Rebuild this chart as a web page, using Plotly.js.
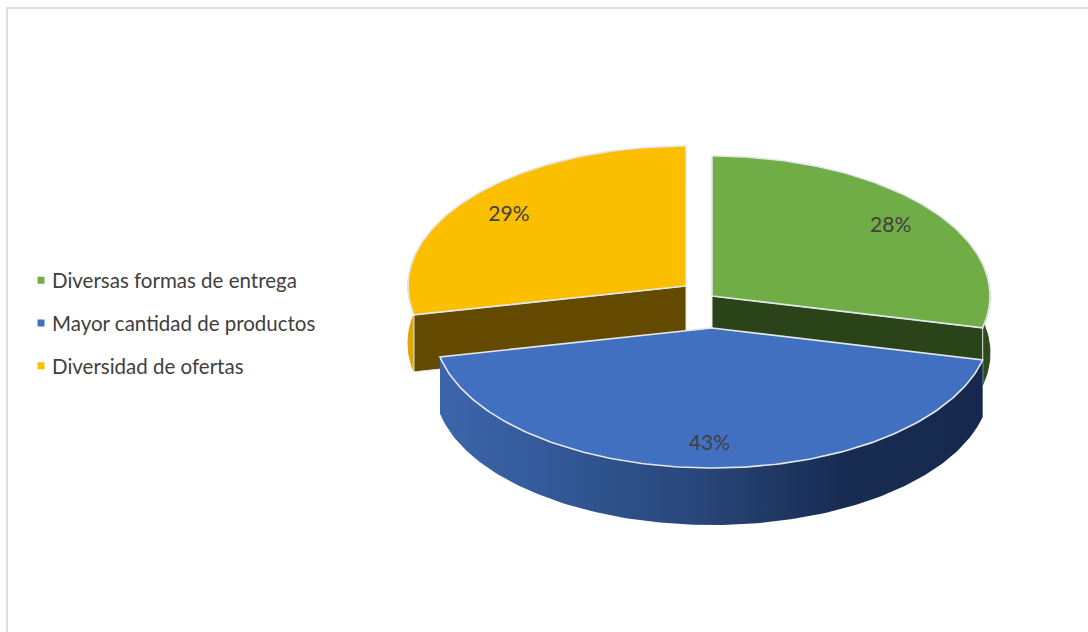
<!DOCTYPE html>
<html>
<head>
<meta charset="utf-8">
<script src="https://cdn.plot.ly/plotly-3.0.1.min.js"></script>
<style>html,body{margin:0;padding:0;background:#fff}#chart{width:1088px;height:632px}</style>
</head>
<body>
<div id="chart"></div>
<script>
// Survey shares, in percent, clockwise from twelve o'clock
const categories = ['Diversas formas de entrega', 'Mayor cantidad de productos', 'Diversidad de ofertas'];
const shares = [28, 43, 29];

const topColors = ['#70AD47', '#4270C0', '#FCBF00'];
const cutColors = ['#2B4319', '#000000', '#634A00'];
const rimColors = ['#2F4A1C', '#000000', '#DDA600'];
const edgeColor = '#E4E7EA';
const textColor = '#404040';

// Disc geometry on a page-sized plot area
const RX = 278, RY = 140, DEPTH = 57;
const hubs = [[712, 296], [712, 328], [686, 286]];

// The nearer half of the disc is foreshortened less, which spreads its angles a little
const view = deg => deg + 4 * (1 - Math.cos(deg * Math.PI / 180)) / 2;

function projected(hub, viewDeg, radial = 1, drop = 0) {
  const a = viewDeg * Math.PI / 180;
  return [hub[0] + RX * radial * Math.sin(a), hub[1] - RY * radial * Math.cos(a) + drop];
}
const rimPoint = (hub, deg, radial, drop) => projected(hub, view(deg), radial, drop);

function sweep(a0, a1, step = 1) {
  const n = Math.max(1, Math.round((a1 - a0) / step));
  const out = [];
  for (let i = 0; i <= n; i++) out.push(a0 + (a1 - a0) * i / n);
  return out;
}

function polygon(points, fill, line) {
  return {
    type: 'scatter', mode: 'lines', fill: 'toself', fillcolor: fill,
    x: points.map(p => p[0]), y: points.map(p => p[1]),
    line: line || { color: fill, width: 1 },
    hoverinfo: 'skip', showlegend: false
  };
}

// Slice boundaries in degrees
const total = shares.reduce((a, b) => a + b, 0);
let running = 0;
const spans = shares.map(s => {
  const a0 = running / total * 360;
  running += s;
  return [a0, running / total * 360];
});

function outerWall(i, a0, a1, color) {
  const hub = hubs[i];
  const angles = sweep(a0, a1);
  const top = angles.map(a => rimPoint(hub, a));
  const bottom = angles.slice().reverse().map(a => rimPoint(hub, a, 1, DEPTH));
  return polygon(top.concat(bottom), color);
}

function cutWall(i, deg, color) {
  const hub = hubs[i];
  return polygon([
    hub, rimPoint(hub, deg), rimPoint(hub, deg, 1, DEPTH), [hub[0], hub[1] + DEPTH], hub
  ], color, { color: edgeColor, width: 1 });
}

function topFace(i) {
  const hub = hubs[i];
  const rim = sweep(spans[i][0], spans[i][1]).map(a => rimPoint(hub, a));
  return polygon([hub].concat(rim, [hub]), topColors[i], { color: edgeColor, width: 1.6 });
}

// Front wall shading, left to right across the slice
const wallShades = [
  [0, 'rgb(60,102,172)'], [0.22, 'rgb(50,88,150)'], [0.48, 'rgb(40,70,120)'],
  [0.74, 'rgb(24,44,82)'], [1, 'rgb(22,40,78)']
];

function frontWall(i) {
  const wall = outerWall(i, spans[i][0], spans[i][1], wallShades[0][1]);
  wall.fillgradient = { type: 'horizontal', colorscale: wallShades };
  wall.line = { width: 0 };
  return wall;
}

const traces = [];

// Back to front: rims and cut faces of the side slices, front wall, then the top faces
traces.push(outerWall(2, spans[2][0], 290, rimColors[2]));
traces.push(outerWall(0, 70, spans[0][1], rimColors[0]));
traces.push(cutWall(2, spans[2][0], cutColors[2]));
traces.push(cutWall(0, spans[0][1], cutColors[0]));
traces.push(frontWall(1));

[0, 2, 1].forEach(i => traces.push(topFace(i)));

// Percentage labels sit midway between each slice's drawn edges
const labelPoints = spans.map((s, i) =>
  projected(hubs[i], (view(s[0]) + view(s[1])) / 2, 0.82, 2));
traces.push({
  type: 'scatter', mode: 'text',
  x: labelPoints.map(p => p[0]), y: labelPoints.map(p => p[1]),
  text: shares.map(s => s + '%'),
  textposition: 'middle center',
  textfont: { family: 'Lato, sans-serif', size: 21, color: textColor },
  hoverinfo: 'skip', showlegend: false
});

// Legend entries
categories.forEach((name, i) => traces.push({
  type: 'scatter', mode: 'markers', name,
  x: [null], y: [null],
  marker: { symbol: 'square', size: 7, color: topColors[i] },
  legendgroup: name, showlegend: true, hoverinfo: 'skip'
}));

const layout = {
  width: 1088, height: 632,
  margin: { l: 0, r: 0, t: 0, b: 0 },
  paper_bgcolor: '#fff', plot_bgcolor: '#fff',
  xaxis: { range: [0, 1088], visible: false, fixedrange: true },
  yaxis: { range: [632, 0], visible: false, fixedrange: true },
  legend: {
    x: 12 / 1088, xanchor: 'left', y: 1 - 323 / 632, yanchor: 'middle',
    tracegroupgap: 13, itemclick: false, itemdoubleclick: false,
    bgcolor: 'rgba(0,0,0,0)',
    font: { family: 'Lato, sans-serif', size: 20.5, color: textColor }
  },
  shapes: [{
    type: 'rect', xref: 'x', yref: 'y', layer: 'below',
    x0: 7, y0: 8, x1: 1110, y1: 660,
    line: { color: '#E0E0E0', width: 2 }
  }]
};

const chart = document.getElementById('chart');
Plotly.newPlot(chart, traces, layout, { displayModeBar: false }).then(() => {
  // Tighten the gap between each legend swatch and its label
  chart.querySelectorAll('.legendsymbols').forEach(g => g.setAttribute('transform', 'translate(9,0)'));
});
</script>
</body>
</html>
